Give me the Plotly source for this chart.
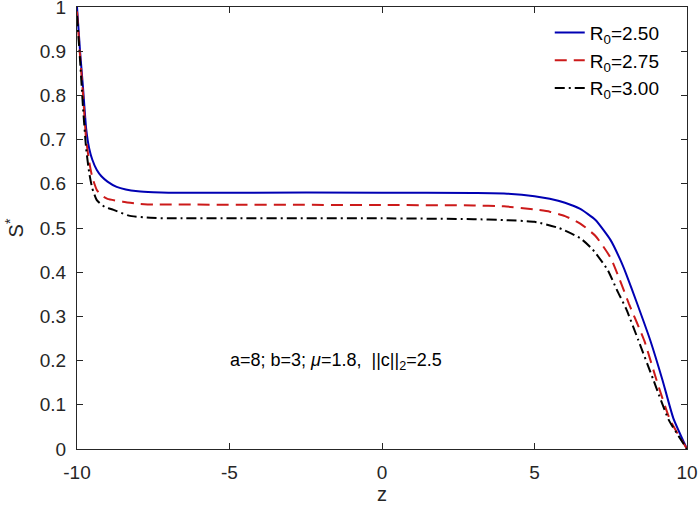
import plotly.graph_objects as go

# Data
z_blue = [-10, -9.9, -9.8, -9.7, -9.6, -9.5, -9.35, -9.2, -9.0, -8.7, -8.4, -8.0, -7.5, -7.0,
          -5.0, 0.0, 3.0, 4.0, 5.0, 5.5, 6.0, 6.5, 7.0, 7.5, 7.8, 8.0, 8.35, 8.8, 9.2, 9.55, 10.0]
s_blue = [1.0, 0.90, 0.815, 0.725, 0.680, 0.655, 0.631, 0.617, 0.605, 0.593, 0.587, 0.583, 0.581, 0.580,
          0.580, 0.580, 0.579, 0.578, 0.572, 0.566, 0.557, 0.543, 0.518, 0.472, 0.430, 0.397, 0.332, 0.245, 0.155, 0.070, 0.0]

z_red = [-10, -9.9, -9.8, -9.7, -9.6, -9.5, -9.35, -9.2, -9.0, -8.5, -8.0, -7.5, -7.0,
         0.0, 3.0, 4.0, 5.0, 5.5, 6.0, 6.5, 7.0, 7.5, 7.8, 8.1, 8.6, 9.0, 9.45, 10.0]
s_red = [0.99, 0.89, 0.80, 0.70, 0.650, 0.615, 0.586, 0.574, 0.566, 0.5595, 0.555, 0.553, 0.553,
         0.552, 0.551, 0.549, 0.542, 0.537, 0.527, 0.510, 0.482, 0.432, 0.382, 0.328, 0.245, 0.156, 0.065, 0.0]

z_black = [-10, -9.9, -9.8, -9.7, -9.6, -9.5, -9.35, -9.1, -8.8, -8.3, -7.6, -7.0,
           0.0, 3.0, 4.0, 5.0, 5.8, 6.5, 6.9, 7.4, 7.7, 8.0, 8.4, 8.9, 9.4, 10.0]
s_black = [0.98, 0.88, 0.77, 0.68, 0.625, 0.590, 0.563, 0.548, 0.541, 0.528, 0.523, 0.522,
           0.522, 0.520, 0.518, 0.514, 0.500, 0.477, 0.452, 0.405, 0.360, 0.318, 0.247, 0.156, 0.066, 0.0]

series_names = ["R<sub>0</sub>=2.50", "R<sub>0</sub>=2.75", "R<sub>0</sub>=3.00"]
x_ticks = [-10, -5, 0, 5, 10]
x_tick_labels = ["-10", "-5", "0", "5", "10"]
y_ticks = [0, 0.1, 0.2, 0.3, 0.4, 0.5, 0.6, 0.7, 0.8, 0.9, 1]
y_tick_labels = ["0", "0.1", "0.2", "0.3", "0.4", "0.5", "0.6", "0.7", "0.8", "0.9", "1"]

FONT = "Liberation Sans, Arial, Helvetica, sans-serif"
TXT = "#262626"

fig = go.Figure()
fig.add_trace(go.Scatter(x=z_blue, y=s_blue, mode="lines", name=series_names[0],
                         line=dict(color="#0000b3", width=2, shape="spline", smoothing=0.5)))
fig.add_trace(go.Scatter(x=z_red, y=s_red, mode="lines", name=series_names[1],
                         line=dict(color="#cc1a1a", width=2, dash="12px,7px", shape="spline", smoothing=0.5)))
fig.add_trace(go.Scatter(x=z_black, y=s_black, mode="lines", name=series_names[2],
                         line=dict(color="#000000", width=2, dash="10px,4px,2px,4px", shape="spline", smoothing=0.5)))

axis_common = dict(
    showline=True, linecolor=TXT, linewidth=1.3, mirror="ticks",
    ticks="inside", ticklen=6, tickcolor=TXT, tickwidth=1.3,
    showgrid=False, zeroline=False, automargin=False,
    ticklabeloverflow="allow",
    tickfont=dict(family=FONT, size=19, color=TXT),
)

fig.update_layout(
    width=698, height=505,
    margin=dict(l=77, r=11, t=7, b=56),
    paper_bgcolor="white", plot_bgcolor="white",
    showlegend=True,
    legend=dict(x=0.775, y=0.985, xanchor="left", yanchor="top",
                bgcolor="rgba(255,255,255,0)", borderwidth=0,
                font=dict(family=FONT, size=19, color="#000000"),
                tracegroupgap=0),
    xaxis=dict(range=[-10, 10], tickvals=x_ticks, ticktext=x_tick_labels, ticklabelstandoff=6,
               title=dict(text="z", font=dict(family=FONT, size=20, color=TXT), standoff=6),
               **axis_common),
    yaxis=dict(range=[0, 1], tickvals=y_ticks, ticktext=y_tick_labels, ticklabelstandoff=6,
               title=dict(text="S<sup>*</sup>", font=dict(family=FONT, size=20, color=TXT), standoff=10),
               **axis_common),
    annotations=[dict(x=-5.05, y=0.197, xref="x", yref="y", xanchor="left", yanchor="middle",
                      text="a=8; b=3; <i>μ</i>=1.8,  ||c||<sub>2</sub>=2.5", showarrow=False,
                      font=dict(family=FONT, size=18, color="#000000"))],
)

fig.write_html("out.html", config={"displayModeBar": False},
               post_script="document.body.style.margin='0';document.body.style.padding='0';")
